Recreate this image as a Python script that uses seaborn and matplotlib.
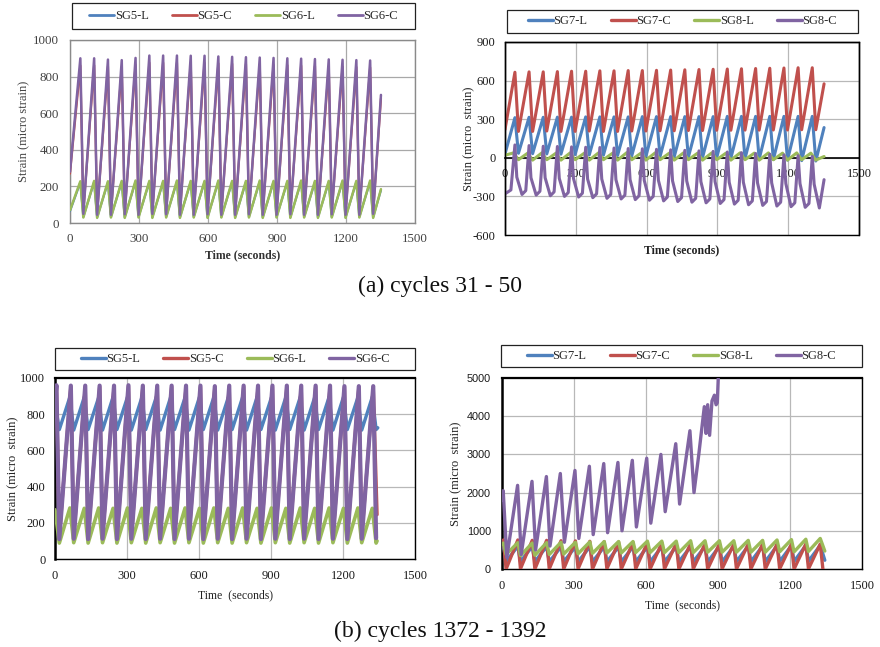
import numpy as np
import pandas as pd
import matplotlib
matplotlib.use("Agg")
import matplotlib.pyplot as plt
import seaborn as sns
from matplotlib.patches import Rectangle

sns.set_theme(style="white")
plt.rcParams["font.family"] = ["Liberation Serif", "DejaVu Serif"]
plt.rcParams["axes.unicode_minus"] = False

BLUE, RED, GREEN, PURPLE = "#4F81BD", "#C0504D", "#9BBB59", "#8064A2"

# ---------------- (a) left : SG5 / SG6, cycles 31-50 ----------------
A1_PEAK_T = [45, 105, 165, 225, 285, 345, 405, 465, 525, 585, 645, 705, 765, 825, 885, 945, 1005, 1065, 1125, 1185, 1245, 1305]
A1_TROUGH_T = [58, 118, 178, 238, 298, 358, 418, 478, 538, 598, 658, 718, 778, 838, 898, 958, 1018, 1078, 1138, 1198, 1258, 1318]
A1_SG6C_PEAK = [900, 900, 893, 890, 902, 915, 915, 915, 914, 914, 910, 908, 906, 904, 902, 900, 898, 896, 894, 892, 890, 888]
A1_SG6C_TROUGH = [50, 45, 45, 48, 45, 50, 48, 45, 45, 48, 45, 45, 48, 45, 45, 48, 45, 45, 48, 45, 45, 50]
A1_SG5C_PEAK = [860, 862, 855, 852, 864, 876, 876, 876, 875, 875, 872, 870, 868, 866, 864, 862, 860, 858, 856, 854, 852, 850]
A1_SG5C_TROUGH = [60, 55, 55, 58, 55, 60, 58, 55, 55, 58, 55, 55, 58, 55, 55, 58, 55, 55, 58, 55, 55, 60]
A1_SG6L_PEAK = [228, 230, 228, 230, 232, 230, 230, 232, 230, 230, 232, 230, 230, 232, 230, 230, 232, 230, 230, 232, 230, 232]
A1_SG6L_TROUGH = [30, 28, 30, 28, 30, 28, 30, 28, 30, 28, 30, 28, 30, 28, 30, 28, 30, 28, 30, 28, 30, 28]
A1_SG5L_PEAK = [222, 224, 222, 224, 226, 224, 224, 226, 224, 224, 226, 224, 224, 226, 224, 224, 226, 224, 224, 226, 224, 226]
A1_SG5L_TROUGH = [34, 32, 34, 32, 34, 32, 34, 32, 34, 32, 34, 32, 34, 32, 34, 32, 34, 32, 34, 32, 34, 32]
A1_START = {"SG5-L": 65, "SG5-C": 270, "SG6-L": 70, "SG6-C": 280}
A1_END_T = 1352
A1_END = {"SG5-L": 180, "SG5-C": 680, "SG6-L": 185, "SG6-C": 700}

# ---------------- (a) right : SG7 / SG8, cycles 31-50 ----------------
A2_PEAK_T = [42, 102, 162, 222, 282, 342, 402, 462, 522, 582, 642, 702, 762, 822, 882, 942, 1002, 1062, 1122, 1182, 1242, 1302]
A2_TROUGH_T = [57, 117, 177, 237, 297, 357, 417, 477, 537, 597, 657, 717, 777, 837, 897, 957, 1017, 1077, 1137, 1197, 1257, 1317]
A2_SG7C_PEAK = [665, 668, 668, 670, 673, 673, 676, 676, 678, 678, 680, 682, 684, 686, 688, 690, 692, 694, 696, 698, 700, 700]
A2_SG7C_TROUGH = [205, 205, 208, 205, 205, 208, 205, 205, 208, 208, 210, 210, 212, 212, 214, 214, 215, 215, 216, 216, 218, 218]
A2_SG7L_PEAK = [312, 315, 315, 316, 316, 318, 318, 318, 318, 320, 320, 320, 320, 320, 320, 322, 322, 322, 322, 322, 322, 322]
A2_SG7L_TROUGH = [35, 32, 30, 28, 25, 22, 20, 18, 15, 12, 10, 8, 5, 2, 0, -3, -6, -10, -14, -18, -22, -25]
A2_SG8L_PEAK_T = [36, 96, 156, 216, 276, 336, 396, 456, 516, 576, 636, 696, 756, 816, 876, 936, 996, 1056, 1116, 1176, 1236, 1296]
A2_SG8L_PEAK = [38, 36, 38, 36, 38, 36, 38, 36, 40, 36, 38, 36, 38, 36, 38, 36, 38, 36, 38, 36, 38, 36]
A2_SG8L_TROUGH = [-15, -18, -15, -18, -15, -18, -15, -18, -15, -18, -15, -18, -15, -18, -15, -18, -15, -18, -15, -18, -15, -18]
A2_SG8C_SPIKE = [100, 95, 90, 88, 85, 82, 80, 76, 72, 70, 66, 62, 58, 54, 50, 45, 40, 34, 28, 22, 16, 10]
A2_SG8C_KNEE_T = [50, 110, 170, 230, 290, 350, 410, 470, 530, 590, 650, 710, 770, 830, 890, 950, 1010, 1070, 1130, 1190, 1250, 1310]
A2_SG8C_KNEE = [-150, -155, -155, -160, -160, -165, -165, -170, -170, -175, -175, -180, -180, -185, -185, -190, -190, -195, -195, -200, -200, -205]
A2_SG8C_TROUGH_T = [72, 132, 192, 252, 312, 372, 432, 492, 552, 612, 672, 732, 792, 852, 912, 972, 1032, 1092, 1152, 1212, 1272, 1332]
A2_SG8C_TROUGH = [-285, -290, -295, -300, -305, -310, -315, -320, -325, -330, -335, -340, -345, -350, -355, -360, -365, -370, -375, -380, -385, -390]
A2_SG8C_PRE_T = [25, 88, 148, 208, 268, 328, 388, 448, 508, 568, 628, 688, 748, 808, 868, 928, 988, 1048, 1108, 1168, 1228, 1288]
A2_SG8C_PRE = [-250, -255, -260, -265, -270, -275, -280, -285, -290, -295, -300, -305, -310, -315, -320, -325, -330, -335, -340, -345, -350, -355]
A2_START = {"SG7-L": 30, "SG7-C": 220, "SG8-L": 20, "SG8-C": -280}
A2_END_T = 1352
A2_END = {"SG7-L": 235, "SG7-C": 575, "SG8-L": 10, "SG8-C": -170}

# ---------------- (b) left : SG5 / SG6, cycles 1372-1392 ----------------
B1_PEAK_T = [6, 66, 126, 186, 246, 306, 366, 426, 486, 546, 606, 666, 726, 786, 846, 906, 966, 1026, 1086, 1146, 1206, 1266, 1326]
B1_TROUGH_T = [18, 78, 138, 198, 258, 318, 378, 438, 498, 558, 618, 678, 738, 798, 858, 918, 978, 1038, 1098, 1158, 1218, 1278, 1338]
B1_L_PEAK_T = [62, 122, 182, 242, 302, 362, 422, 482, 542, 602, 662, 722, 782, 842, 902, 962, 1022, 1082, 1142, 1202, 1262, 1322]
B1_SG6C_PEAK = [960, 958, 958, 958, 958, 960, 958, 958, 958, 958, 958, 955, 958, 958, 958, 958, 958, 958, 958, 958, 955, 955, 955]
B1_SG6C_TROUGH = [110, 112, 110, 112, 110, 112, 110, 112, 110, 112, 110, 112, 110, 112, 110, 112, 110, 112, 110, 112, 110, 112, 115]
B1_SG5C_PEAK = [955, 952, 952, 952, 952, 955, 952, 952, 952, 952, 952, 950, 952, 952, 952, 952, 952, 952, 952, 952, 950, 950, 950]
B1_SG5C_TROUGH = [118, 120, 118, 120, 118, 120, 118, 120, 118, 120, 118, 120, 118, 120, 118, 120, 118, 120, 118, 120, 118, 120]
B1_SG5L_PEAK = [895, 895, 893, 895, 895, 893, 895, 895, 893, 895, 895, 893, 895, 895, 893, 895, 895, 893, 895, 895, 893, 895]
B1_SG5L_TROUGH = [715, 712, 715, 712, 715, 712, 715, 712, 715, 712, 715, 712, 715, 712, 715, 712, 715, 712, 715, 712, 715, 712, 715]
B1_SG6L_PEAK = [282, 280, 282, 280, 282, 280, 282, 280, 282, 280, 282, 280, 282, 280, 282, 280, 282, 280, 282, 280, 282, 280]
B1_SG6L_TROUGH = [88, 90, 88, 90, 88, 90, 88, 90, 88, 90, 88, 90, 88, 90, 88, 90, 88, 90, 88, 90, 88, 90, 88]
B1_START = {"SG5-L": 862, "SG5-C": 860, "SG6-L": 272, "SG6-C": 870}
B1_END = {"SG5-L": (1345, 725), "SG5-C": (1342, 245), "SG6-L": (1342, 100)}

# ---------------- (b) right : SG7 / SG8, cycles 1372-1392 ----------------
B2_PEAK_T = [6, 66, 126, 186, 246, 306, 366, 426, 486, 546, 606, 666, 726, 786, 846, 906, 966, 1026, 1086, 1146, 1206, 1266, 1326]
B2_TROUGH_T = [17, 77, 137, 197, 257, 317, 377, 437, 497, 557, 617, 677, 737, 797, 857, 917, 977, 1037, 1097, 1157, 1217, 1277, 1337]
B2_SG7C_PEAK = [760, 760, 750, 750, 740, 735, 725, 715, 705, 695, 690, 680, 670, 665, 660, 660, 655, 655, 655, 655, 655, 655, 655]
B2_SG7C_TROUGH = [0, 5, 0, 5, 0, 5, 0, 5, 0, 5, 0, 5, 0, 5, 0, 5, 0, 5, 0, 5, 0, 5, 0]
B2_SG7L_PEAK = [600, 595, 590, 585, 580, 580, 580, 580, 580, 580, 580, 580, 585, 585, 590, 590, 595, 600, 600, 605, 610, 615, 620]
B2_SG7L_TROUGH = [200, 195, 195, 190, 190, 190, 190, 190, 190, 190, 190, 190, 190, 190, 190, 190, 195, 195, 195, 200, 200, 205]
B2_SG8L_PEAK = [680, 690, 680, 690, 700, 700, 710, 720, 720, 720, 730, 730, 730, 740, 740, 740, 740, 750, 750, 760, 770, 780, 800]
B2_SG8L_TROUGH = [380, 350, 360, 380, 390, 400, 410, 420, 420, 430, 430, 430, 430, 430, 440, 440, 440, 440, 440, 450, 450, 460]
B2_START = {"SG7-L": 560, "SG7-C": 700, "SG8-L": 650}
B2_END = {"SG7-L": (1345, 230), "SG8-L": (1345, 470)}
B2_SG8C_T = [0, 5, 20, 65, 80, 125, 140, 185, 200, 243, 260, 304, 320, 364, 380, 424, 440, 483, 500,
             543, 560, 603, 620, 662, 680, 724, 740, 783, 800, 820, 843, 850, 857, 865, 875, 885, 892, 897, 903]
B2_SG8C_V = [1800, 2050, 300, 2190, 380, 2295, 500, 2420, 600, 2500, 700, 2580, 800, 2690, 900, 2760, 950, 2790, 1000,
             2845, 1100, 2900, 1200, 3000, 1500, 3280, 1700, 3620, 2000, 3000, 4250, 3550, 4300, 3500, 4400, 4550, 4300, 4350, 5300]

TIME_TICKS = [0, 300, 600, 900, 1200, 1500]
LEGEND_ORDER = ["SG5-L", "SG5-C", "SG6-L", "SG6-C", "SG7-L", "SG7-C", "SG8-L", "SG8-C"]


def saw(start, seg_t, seg_v, end=None):
    """Merge start value (t=0), time-tagged vertex lists and an end point, sorted by time."""
    t, v = [], []
    if start is not None:
        t.append(0)
        v.append(start)
    for ts, vs in zip(seg_t, seg_v):
        n = min(len(ts), len(vs))
        t += list(ts[:n])
        v += list(vs[:n])
    if end is not None:
        t.append(end[0])
        v.append(end[1])
    order = np.argsort(t, kind="stable")
    return pd.DataFrame({"Time": np.array(t)[order], "Strain": np.array(v)[order]})


fig = plt.figure(figsize=(8.8, 6.47), dpi=100)
W, H = 880.0, 647.0


def ax_at(l, t, r, b):
    return fig.add_axes([l / W, 1 - b / H, (r - l) / W, (b - t) / H])


def draw(ax, series):
    for name, df, col, lw in series:
        sns.lineplot(data=df, x="Time", y="Strain", ax=ax, color=col, lw=lw, label=name,
                     sort=False, estimator=None, zorder=3)
    h, l = ax.get_legend_handles_labels()
    if ax.get_legend() is not None:
        ax.get_legend().remove()
    return h, l


def legend_box(handles, labels, l, t, r, b, fs=9, hlw=2.4):
    fig.patches.append(Rectangle((l / W, 1 - b / H), (r - l) / W, (b - t) / H, transform=fig.transFigure,
                                 fill=True, facecolor="white", edgecolor="#222222", lw=0.9, zorder=1))
    pairs = sorted(zip(handles, labels), key=lambda p: LEGEND_ORDER.index(p[1]))
    leg = fig.legend([p[0] for p in pairs], [p[1] for p in pairs], loc="center",
                     bbox_to_anchor=((l + r) / 2 / W, 1 - (t + b) / 2 / H),
                     bbox_transform=fig.transFigure, ncol=4, fontsize=fs,
                     frameon=False, handlelength=2.0, handletextpad=0.05, borderaxespad=0,
                     borderpad=0, columnspacing=1.85)
    for line in leg.get_lines():
        line.set_linewidth(hlw)
    return leg


def style(ax, ylim, yticks, spine_col="black", tick_col="#1a1a1a", fs=9, xpad=8, ypad=8):
    ax.set_xlim(0, 1500)
    ax.set_ylim(*ylim)
    ax.set_xticks(TIME_TICKS)
    ax.set_yticks(yticks)
    ax.grid(True, color="#b8b8b8", lw=0.9)
    ax.set_axisbelow(True)
    for s in ax.spines.values():
        s.set_color(spine_col)
        s.set_linewidth(1.0)
    ax.tick_params(axis="both", length=0, labelsize=fs, colors=tick_col)
    ax.tick_params(axis="x", pad=xpad)
    ax.tick_params(axis="y", pad=ypad)
    ax.set_facecolor("white")


# ---- panel (a) left
ax1 = ax_at(70, 40, 415, 223)
a1 = [
    ("SG5-L", saw(A1_START["SG5-L"], [A1_PEAK_T, A1_TROUGH_T], [A1_SG5L_PEAK, A1_SG5L_TROUGH], (A1_END_T, A1_END["SG5-L"])), BLUE, 1.6),
    ("SG5-C", saw(A1_START["SG5-C"], [A1_PEAK_T, A1_TROUGH_T], [A1_SG5C_PEAK, A1_SG5C_TROUGH], (A1_END_T, A1_END["SG5-C"])), RED, 1.6),
    ("SG6-L", saw(A1_START["SG6-L"], [A1_PEAK_T, A1_TROUGH_T], [A1_SG6L_PEAK, A1_SG6L_TROUGH], (A1_END_T, A1_END["SG6-L"])), GREEN, 1.8),
    ("SG6-C", saw(A1_START["SG6-C"], [A1_PEAK_T, A1_TROUGH_T], [A1_SG6C_PEAK, A1_SG6C_TROUGH], (A1_END_T, A1_END["SG6-C"])), PURPLE, 1.8),
]
h, l = draw(ax1, a1)
style(ax1, (0, 1000), [0, 200, 400, 600, 800, 1000], spine_col="#8a8a8a", tick_col="#404040",
      fs=9.3, xpad=7, ypad=8)
ax1.grid(True, color="#a8a8a8", lw=0.9)
ax1.set_xlabel("Time (seconds)", fontsize=8.5, fontweight="bold", color="#333333")
ax1.set_ylabel("Strain (micro strain)", fontsize=9, color="#444444")
ax1.xaxis.set_label_coords(0.5, -0.145)
ax1.yaxis.set_label_coords(-0.115, 0.5)
legend_box(h, l, 72, 3, 415, 29, hlw=2.0)

# ---- panel (a) right
ax2 = ax_at(505, 42, 859, 235)
a2 = [
    ("SG7-L", saw(A2_START["SG7-L"], [A2_PEAK_T, A2_TROUGH_T], [A2_SG7L_PEAK, A2_SG7L_TROUGH], (A2_END_T, A2_END["SG7-L"])), BLUE, 2.2),
    ("SG7-C", saw(A2_START["SG7-C"], [A2_PEAK_T, A2_TROUGH_T], [A2_SG7C_PEAK, A2_SG7C_TROUGH], (A2_END_T, A2_END["SG7-C"])), RED, 2.2),
    ("SG8-L", saw(A2_START["SG8-L"], [A2_SG8L_PEAK_T, A2_TROUGH_T], [A2_SG8L_PEAK, A2_SG8L_TROUGH], (A2_END_T, A2_END["SG8-L"])), GREEN, 2.2),
    ("SG8-C", saw(A2_START["SG8-C"], [A2_SG8C_PRE_T, A2_PEAK_T, A2_SG8C_KNEE_T, A2_SG8C_TROUGH_T],
                  [A2_SG8C_PRE, A2_SG8C_SPIKE, A2_SG8C_KNEE, A2_SG8C_TROUGH], (A2_END_T, A2_END["SG8-C"])), PURPLE, 2.2),
]
h, l = draw(ax2, a2)
style(ax2, (-600, 900), [-600, -300, 0, 300, 600, 900], fs=9, xpad=7, ypad=7)
ax2.spines["bottom"].set_position(("data", 0))
ax2.spines["bottom"].set_linewidth(1.2)
ax2.spines["bottom"].set_zorder(2.6)
ax2.add_patch(Rectangle((0, 0), 1, 1, transform=ax2.transAxes, fill=False,
                        edgecolor="black", lw=1.0, clip_on=False, zorder=5))
ax2.set_xlabel("Time (seconds)", fontsize=8.5, fontweight="bold", color="#222222")
ax2.set_ylabel("Strain (micro  strain)", fontsize=9, color="#222222")
ax2.xaxis.set_label_coords(0.5, -0.05)
ax2.yaxis.set_label_coords(-0.085, 0.5)
legend_box(h, l, 507, 10, 858, 33)

# ---- panel (b) left
ax3 = ax_at(55, 378, 415, 559)
b1 = [
    ("SG5-L", saw(B1_START["SG5-L"], [B1_L_PEAK_T, B1_TROUGH_T], [B1_SG5L_PEAK, B1_SG5L_TROUGH], B1_END["SG5-L"]), BLUE, 2.4),
    ("SG5-C", saw(B1_START["SG5-C"], [B1_PEAK_T, B1_TROUGH_T], [B1_SG5C_PEAK, B1_SG5C_TROUGH], B1_END["SG5-C"]), RED, 2.4),
    ("SG6-L", saw(B1_START["SG6-L"], [B1_L_PEAK_T, B1_TROUGH_T], [B1_SG6L_PEAK, B1_SG6L_TROUGH], B1_END["SG6-L"]), GREEN, 2.6),
    ("SG6-C", saw(B1_START["SG6-C"], [B1_PEAK_T, B1_TROUGH_T], [B1_SG6C_PEAK, B1_SG6C_TROUGH]), PURPLE, 3.0),
]
h, l = draw(ax3, b1)
style(ax3, (0, 1000), [0, 200, 400, 600, 800, 1000], fs=9, xpad=8, ypad=7)
ax3.spines["left"].set_linewidth(1.8)
ax3.spines["top"].set_linewidth(1.6)
ax3.set_xlabel("Time  (seconds)", fontsize=8.5, color="#222222")
ax3.set_ylabel("Strain (micro  strain)", fontsize=9, color="#222222")
ax3.xaxis.set_label_coords(0.5, -0.17)
ax3.yaxis.set_label_coords(-0.1, 0.5)
legend_box(h, l, 55, 348, 415, 370)

# ---- panel (b) right
ax4 = ax_at(502, 378, 862, 569)
b2 = [
    ("SG7-L", saw(B2_START["SG7-L"], [B2_PEAK_T, B2_TROUGH_T], [B2_SG7L_PEAK, B2_SG7L_TROUGH], B2_END["SG7-L"]), BLUE, 2.4),
    ("SG7-C", saw(B2_START["SG7-C"], [B2_PEAK_T, B2_TROUGH_T], [B2_SG7C_PEAK, B2_SG7C_TROUGH]), RED, 2.4),
    ("SG8-L", saw(B2_START["SG8-L"], [B2_PEAK_T, B2_TROUGH_T], [B2_SG8L_PEAK, B2_SG8L_TROUGH], B2_END["SG8-L"]), GREEN, 2.4),
    ("SG8-C", pd.DataFrame({"Time": B2_SG8C_T, "Strain": B2_SG8C_V}), PURPLE, 2.4),
]
h, l = draw(ax4, b2)
style(ax4, (0, 5000), [0, 1000, 2000, 3000, 4000, 5000], fs=9, xpad=8, ypad=8)
ax4.spines["left"].set_linewidth(1.8)
ax4.spines["top"].set_linewidth(1.6)
for lab in ax4.get_yticklabels():
    lab.set_family(["Liberation Sans", "DejaVu Sans"])
    lab.set_fontsize(7.8)
ax4.set_xlabel("Time  (seconds)", fontsize=8.5, color="#222222")
ax4.set_ylabel("Strain (micro  strain)", fontsize=9, color="#222222")
ax4.xaxis.set_label_coords(0.5, -0.16)
ax4.yaxis.set_label_coords(-0.11, 0.5)
legend_box(h, l, 501, 345, 862, 367)

# ---- captions
fig.text(440 / W, 1 - 286 / H, "(a) cycles 31 - 50", ha="center", va="center", fontsize=17, color="#111111")
fig.text(440 / W, 1 - 631 / H, "(b) cycles 1372 - 1392", ha="center", va="center", fontsize=17, color="#111111")

fig.savefig("out.png", dpi=100, facecolor="white")
